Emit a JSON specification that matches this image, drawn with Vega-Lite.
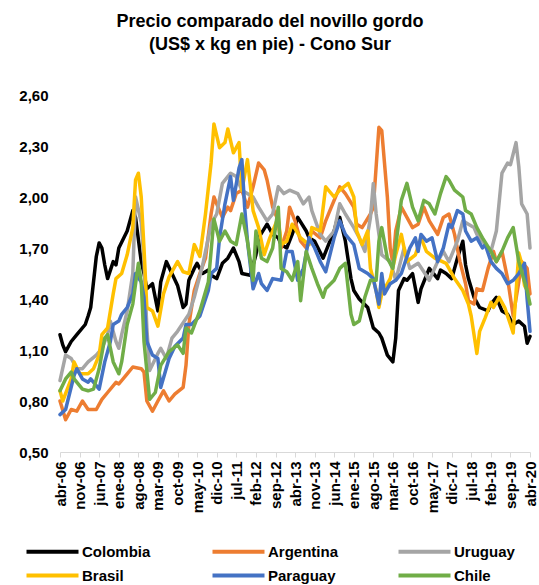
{
"$schema": "https://vega.github.io/schema/vega-lite/v6.json",
"width": 470, "height": 357, "autosize": "none",
"padding": {"left": 60, "top": 95, "right": 9, "bottom": 133},
"title": {"text": ["Precio comparado del novillo gordo", "(US$ x kg en pie) - Cono Sur"], "font": "Liberation Sans", "fontSize": 18, "fontWeight": "bold", "color": "#000000", "anchor": "middle", "dx": -25, "offset": 34, "lineHeight": 23},
"config": {"view": {"stroke": null}, "font": "Liberation Sans"},
"data": {"format": {"parse": {"d": "date:'%Y-%m'"}}, "values": [
{"s":"Colombia","d":"2006-04","v":1.19},{"s":"Colombia","d":"2006-05","v":1.13},{"s":"Colombia","d":"2006-06","v":1.09},{"s":"Colombia","d":"2006-08","v":1.15},{"s":"Colombia","d":"2006-10","v":1.19},{"s":"Colombia","d":"2007-01","v":1.25},{"s":"Colombia","d":"2007-02","v":1.30},{"s":"Colombia","d":"2007-03","v":1.35},{"s":"Colombia","d":"2007-05","v":1.65},{"s":"Colombia","d":"2007-06","v":1.73},{"s":"Colombia","d":"2007-07","v":1.70},{"s":"Colombia","d":"2007-08","v":1.60},{"s":"Colombia","d":"2007-09","v":1.52},{"s":"Colombia","d":"2007-11","v":1.62},{"s":"Colombia","d":"2007-12","v":1.60},{"s":"Colombia","d":"2008-01","v":1.70},{"s":"Colombia","d":"2008-04","v":1.80},{"s":"Colombia","d":"2008-06","v":1.92},{"s":"Colombia","d":"2008-07","v":1.88},{"s":"Colombia","d":"2008-09","v":1.62},{"s":"Colombia","d":"2008-10","v":1.55},{"s":"Colombia","d":"2008-11","v":1.46},{"s":"Colombia","d":"2009-01","v":1.49},{"s":"Colombia","d":"2009-03","v":1.33},{"s":"Colombia","d":"2009-04","v":1.50},{"s":"Colombia","d":"2009-06","v":1.62},{"s":"Colombia","d":"2009-08","v":1.55},{"s":"Colombia","d":"2009-10","v":1.48},{"s":"Colombia","d":"2009-12","v":1.35},{"s":"Colombia","d":"2010-01","v":1.37},{"s":"Colombia","d":"2010-02","v":1.51},{"s":"Colombia","d":"2010-04","v":1.58},{"s":"Colombia","d":"2010-05","v":1.61},{"s":"Colombia","d":"2010-07","v":1.55},{"s":"Colombia","d":"2010-09","v":1.57},{"s":"Colombia","d":"2010-10","v":1.54},{"s":"Colombia","d":"2010-12","v":1.52},{"s":"Colombia","d":"2011-02","v":1.61},{"s":"Colombia","d":"2011-04","v":1.64},{"s":"Colombia","d":"2011-06","v":1.70},{"s":"Colombia","d":"2011-08","v":1.62},{"s":"Colombia","d":"2011-09","v":1.55},{"s":"Colombia","d":"2011-12","v":1.54},{"s":"Colombia","d":"2012-02","v":1.66},{"s":"Colombia","d":"2012-03","v":1.76},{"s":"Colombia","d":"2012-06","v":1.84},{"s":"Colombia","d":"2012-08","v":1.78},{"s":"Colombia","d":"2012-10","v":1.76},{"s":"Colombia","d":"2012-11","v":1.72},{"s":"Colombia","d":"2013-01","v":1.70},{"s":"Colombia","d":"2013-03","v":1.78},{"s":"Colombia","d":"2013-05","v":1.88},{"s":"Colombia","d":"2013-08","v":1.80},{"s":"Colombia","d":"2013-09","v":1.76},{"s":"Colombia","d":"2013-11","v":1.74},{"s":"Colombia","d":"2014-02","v":1.64},{"s":"Colombia","d":"2014-04","v":1.72},{"s":"Colombia","d":"2014-06","v":1.80},{"s":"Colombia","d":"2014-07","v":1.86},{"s":"Colombia","d":"2014-08","v":1.88},{"s":"Colombia","d":"2014-10","v":1.74},{"s":"Colombia","d":"2014-12","v":1.52},{"s":"Colombia","d":"2015-01","v":1.45},{"s":"Colombia","d":"2015-03","v":1.40},{"s":"Colombia","d":"2015-06","v":1.35},{"s":"Colombia","d":"2015-08","v":1.23},{"s":"Colombia","d":"2015-10","v":1.20},{"s":"Colombia","d":"2015-11","v":1.17},{"s":"Colombia","d":"2016-01","v":1.07},{"s":"Colombia","d":"2016-03","v":1.03},{"s":"Colombia","d":"2016-04","v":1.17},{"s":"Colombia","d":"2016-05","v":1.45},{"s":"Colombia","d":"2016-07","v":1.52},{"s":"Colombia","d":"2016-08","v":1.51},{"s":"Colombia","d":"2016-10","v":1.55},{"s":"Colombia","d":"2016-12","v":1.38},{"s":"Colombia","d":"2017-01","v":1.46},{"s":"Colombia","d":"2017-04","v":1.58},{"s":"Colombia","d":"2017-07","v":1.52},{"s":"Colombia","d":"2017-08","v":1.57},{"s":"Colombia","d":"2017-10","v":1.55},{"s":"Colombia","d":"2017-12","v":1.52},{"s":"Colombia","d":"2018-02","v":1.64},{"s":"Colombia","d":"2018-04","v":1.74},{"s":"Colombia","d":"2018-05","v":1.60},{"s":"Colombia","d":"2018-06","v":1.52},{"s":"Colombia","d":"2018-08","v":1.41},{"s":"Colombia","d":"2018-10","v":1.35},{"s":"Colombia","d":"2019-01","v":1.33},{"s":"Colombia","d":"2019-02","v":1.37},{"s":"Colombia","d":"2019-04","v":1.41},{"s":"Colombia","d":"2019-06","v":1.33},{"s":"Colombia","d":"2019-08","v":1.31},{"s":"Colombia","d":"2019-10","v":1.25},{"s":"Colombia","d":"2019-12","v":1.27},{"s":"Colombia","d":"2020-02","v":1.24},{"s":"Colombia","d":"2020-03","v":1.14},{"s":"Colombia","d":"2020-04","v":1.18},
{"s":"Argentina","d":"2006-04","v":0.80},{"s":"Argentina","d":"2006-06","v":0.69},{"s":"Argentina","d":"2006-08","v":0.75},{"s":"Argentina","d":"2006-10","v":0.74},{"s":"Argentina","d":"2006-12","v":0.80},{"s":"Argentina","d":"2007-02","v":0.75},{"s":"Argentina","d":"2007-05","v":0.75},{"s":"Argentina","d":"2007-07","v":0.81},{"s":"Argentina","d":"2007-09","v":0.85},{"s":"Argentina","d":"2007-12","v":0.91},{"s":"Argentina","d":"2008-01","v":0.90},{"s":"Argentina","d":"2008-04","v":0.96},{"s":"Argentina","d":"2008-06","v":1.00},{"s":"Argentina","d":"2008-09","v":0.99},{"s":"Argentina","d":"2008-10","v":0.97},{"s":"Argentina","d":"2008-11","v":0.80},{"s":"Argentina","d":"2009-01","v":0.74},{"s":"Argentina","d":"2009-03","v":0.80},{"s":"Argentina","d":"2009-05","v":0.86},{"s":"Argentina","d":"2009-07","v":0.80},{"s":"Argentina","d":"2009-09","v":0.84},{"s":"Argentina","d":"2009-12","v":0.88},{"s":"Argentina","d":"2010-01","v":1.01},{"s":"Argentina","d":"2010-02","v":1.25},{"s":"Argentina","d":"2010-04","v":1.45},{"s":"Argentina","d":"2010-06","v":1.55},{"s":"Argentina","d":"2010-08","v":1.64},{"s":"Argentina","d":"2010-10","v":1.90},{"s":"Argentina","d":"2010-11","v":2.00},{"s":"Argentina","d":"2010-12","v":1.96},{"s":"Argentina","d":"2011-02","v":1.88},{"s":"Argentina","d":"2011-04","v":1.94},{"s":"Argentina","d":"2011-05","v":1.92},{"s":"Argentina","d":"2011-07","v":2.02},{"s":"Argentina","d":"2011-09","v":2.04},{"s":"Argentina","d":"2011-11","v":1.94},{"s":"Argentina","d":"2012-01","v":2.06},{"s":"Argentina","d":"2012-03","v":2.20},{"s":"Argentina","d":"2012-05","v":2.16},{"s":"Argentina","d":"2012-06","v":2.10},{"s":"Argentina","d":"2012-08","v":1.94},{"s":"Argentina","d":"2012-10","v":1.86},{"s":"Argentina","d":"2012-11","v":1.70},{"s":"Argentina","d":"2013-01","v":1.80},{"s":"Argentina","d":"2013-02","v":1.94},{"s":"Argentina","d":"2013-04","v":1.86},{"s":"Argentina","d":"2013-06","v":1.74},{"s":"Argentina","d":"2013-08","v":1.70},{"s":"Argentina","d":"2013-10","v":1.80},{"s":"Argentina","d":"2014-01","v":1.76},{"s":"Argentina","d":"2014-03","v":1.86},{"s":"Argentina","d":"2014-05","v":1.94},{"s":"Argentina","d":"2014-08","v":2.06},{"s":"Argentina","d":"2014-10","v":2.02},{"s":"Argentina","d":"2015-01","v":1.94},{"s":"Argentina","d":"2015-02","v":1.84},{"s":"Argentina","d":"2015-04","v":1.82},{"s":"Argentina","d":"2015-07","v":1.90},{"s":"Argentina","d":"2015-08","v":1.94},{"s":"Argentina","d":"2015-10","v":2.41},{"s":"Argentina","d":"2015-11","v":2.39},{"s":"Argentina","d":"2016-01","v":2.00},{"s":"Argentina","d":"2016-02","v":1.70},{"s":"Argentina","d":"2016-03","v":1.61},{"s":"Argentina","d":"2016-04","v":1.80},{"s":"Argentina","d":"2016-06","v":1.94},{"s":"Argentina","d":"2016-08","v":1.88},{"s":"Argentina","d":"2016-10","v":1.82},{"s":"Argentina","d":"2016-12","v":1.84},{"s":"Argentina","d":"2017-02","v":1.94},{"s":"Argentina","d":"2017-04","v":1.86},{"s":"Argentina","d":"2017-07","v":1.78},{"s":"Argentina","d":"2017-09","v":1.88},{"s":"Argentina","d":"2017-11","v":1.90},{"s":"Argentina","d":"2018-01","v":1.78},{"s":"Argentina","d":"2018-03","v":1.62},{"s":"Argentina","d":"2018-05","v":1.49},{"s":"Argentina","d":"2018-06","v":1.39},{"s":"Argentina","d":"2018-08","v":1.37},{"s":"Argentina","d":"2018-09","v":1.46},{"s":"Argentina","d":"2018-11","v":1.45},{"s":"Argentina","d":"2019-01","v":1.58},{"s":"Argentina","d":"2019-03","v":1.68},{"s":"Argentina","d":"2019-04","v":1.62},{"s":"Argentina","d":"2019-06","v":1.68},{"s":"Argentina","d":"2019-08","v":1.52},{"s":"Argentina","d":"2019-10","v":1.30},{"s":"Argentina","d":"2019-12","v":1.50},{"s":"Argentina","d":"2020-01","v":1.62},{"s":"Argentina","d":"2020-03","v":1.58},{"s":"Argentina","d":"2020-04","v":1.43},
{"s":"Uruguay","d":"2006-04","v":0.92},{"s":"Uruguay","d":"2006-06","v":1.07},{"s":"Uruguay","d":"2006-08","v":1.05},{"s":"Uruguay","d":"2006-10","v":0.99},{"s":"Uruguay","d":"2006-12","v":0.99},{"s":"Uruguay","d":"2007-02","v":1.03},{"s":"Uruguay","d":"2007-05","v":1.07},{"s":"Uruguay","d":"2007-07","v":1.11},{"s":"Uruguay","d":"2007-09","v":1.19},{"s":"Uruguay","d":"2007-10","v":1.27},{"s":"Uruguay","d":"2007-12","v":1.15},{"s":"Uruguay","d":"2008-01","v":1.11},{"s":"Uruguay","d":"2008-02","v":1.19},{"s":"Uruguay","d":"2008-04","v":1.33},{"s":"Uruguay","d":"2008-06","v":1.55},{"s":"Uruguay","d":"2008-07","v":2.00},{"s":"Uruguay","d":"2008-09","v":1.85},{"s":"Uruguay","d":"2008-10","v":1.62},{"s":"Uruguay","d":"2008-11","v":1.23},{"s":"Uruguay","d":"2008-12","v":0.98},{"s":"Uruguay","d":"2009-03","v":1.08},{"s":"Uruguay","d":"2009-04","v":1.11},{"s":"Uruguay","d":"2009-06","v":1.05},{"s":"Uruguay","d":"2009-08","v":1.17},{"s":"Uruguay","d":"2009-10","v":1.21},{"s":"Uruguay","d":"2010-02","v":1.31},{"s":"Uruguay","d":"2010-04","v":1.41},{"s":"Uruguay","d":"2010-07","v":1.60},{"s":"Uruguay","d":"2010-09","v":1.76},{"s":"Uruguay","d":"2010-10","v":1.84},{"s":"Uruguay","d":"2010-12","v":1.90},{"s":"Uruguay","d":"2011-02","v":2.08},{"s":"Uruguay","d":"2011-05","v":2.14},{"s":"Uruguay","d":"2011-07","v":2.12},{"s":"Uruguay","d":"2011-09","v":2.04},{"s":"Uruguay","d":"2012-01","v":2.00},{"s":"Uruguay","d":"2012-03","v":1.94},{"s":"Uruguay","d":"2012-06","v":1.86},{"s":"Uruguay","d":"2012-08","v":1.90},{"s":"Uruguay","d":"2012-10","v":2.06},{"s":"Uruguay","d":"2012-12","v":2.02},{"s":"Uruguay","d":"2013-02","v":2.04},{"s":"Uruguay","d":"2013-05","v":2.02},{"s":"Uruguay","d":"2013-07","v":1.96},{"s":"Uruguay","d":"2013-09","v":2.00},{"s":"Uruguay","d":"2013-10","v":1.92},{"s":"Uruguay","d":"2014-01","v":1.78},{"s":"Uruguay","d":"2014-03","v":1.74},{"s":"Uruguay","d":"2014-06","v":1.80},{"s":"Uruguay","d":"2014-08","v":1.96},{"s":"Uruguay","d":"2014-10","v":1.90},{"s":"Uruguay","d":"2015-01","v":1.82},{"s":"Uruguay","d":"2015-03","v":1.76},{"s":"Uruguay","d":"2015-05","v":1.68},{"s":"Uruguay","d":"2015-07","v":1.88},{"s":"Uruguay","d":"2015-08","v":2.08},{"s":"Uruguay","d":"2015-09","v":1.90},{"s":"Uruguay","d":"2015-11","v":1.66},{"s":"Uruguay","d":"2016-02","v":1.62},{"s":"Uruguay","d":"2016-04","v":1.51},{"s":"Uruguay","d":"2016-07","v":1.70},{"s":"Uruguay","d":"2016-09","v":1.58},{"s":"Uruguay","d":"2016-12","v":1.61},{"s":"Uruguay","d":"2017-02","v":1.56},{"s":"Uruguay","d":"2017-04","v":1.51},{"s":"Uruguay","d":"2017-07","v":1.62},{"s":"Uruguay","d":"2017-09","v":1.68},{"s":"Uruguay","d":"2017-11","v":1.62},{"s":"Uruguay","d":"2018-02","v":1.74},{"s":"Uruguay","d":"2018-04","v":1.86},{"s":"Uruguay","d":"2018-06","v":1.84},{"s":"Uruguay","d":"2018-08","v":1.82},{"s":"Uruguay","d":"2018-09","v":1.78},{"s":"Uruguay","d":"2018-11","v":1.74},{"s":"Uruguay","d":"2019-02","v":1.68},{"s":"Uruguay","d":"2019-04","v":1.80},{"s":"Uruguay","d":"2019-06","v":2.14},{"s":"Uruguay","d":"2019-08","v":2.20},{"s":"Uruguay","d":"2019-09","v":2.19},{"s":"Uruguay","d":"2019-11","v":2.32},{"s":"Uruguay","d":"2019-12","v":2.18},{"s":"Uruguay","d":"2020-01","v":1.96},{"s":"Uruguay","d":"2020-03","v":1.90},{"s":"Uruguay","d":"2020-04","v":1.70},
{"s":"Brasil","d":"2006-04","v":0.86},{"s":"Brasil","d":"2006-05","v":0.80},{"s":"Brasil","d":"2006-08","v":0.93},{"s":"Brasil","d":"2006-09","v":1.03},{"s":"Brasil","d":"2006-11","v":0.96},{"s":"Brasil","d":"2007-02","v":0.96},{"s":"Brasil","d":"2007-04","v":0.99},{"s":"Brasil","d":"2007-06","v":1.07},{"s":"Brasil","d":"2007-07","v":1.19},{"s":"Brasil","d":"2007-09","v":1.23},{"s":"Brasil","d":"2007-11","v":1.43},{"s":"Brasil","d":"2007-12","v":1.52},{"s":"Brasil","d":"2008-02","v":1.55},{"s":"Brasil","d":"2008-04","v":1.66},{"s":"Brasil","d":"2008-06","v":1.82},{"s":"Brasil","d":"2008-07","v":2.10},{"s":"Brasil","d":"2008-08","v":2.14},{"s":"Brasil","d":"2008-09","v":2.00},{"s":"Brasil","d":"2008-10","v":1.70},{"s":"Brasil","d":"2008-11","v":1.35},{"s":"Brasil","d":"2009-01","v":1.33},{"s":"Brasil","d":"2009-03","v":1.24},{"s":"Brasil","d":"2009-05","v":1.43},{"s":"Brasil","d":"2009-07","v":1.53},{"s":"Brasil","d":"2009-10","v":1.62},{"s":"Brasil","d":"2009-12","v":1.56},{"s":"Brasil","d":"2010-02","v":1.55},{"s":"Brasil","d":"2010-04","v":1.72},{"s":"Brasil","d":"2010-06","v":1.65},{"s":"Brasil","d":"2010-08","v":1.90},{"s":"Brasil","d":"2010-10","v":2.20},{"s":"Brasil","d":"2010-11","v":2.43},{"s":"Brasil","d":"2011-01","v":2.29},{"s":"Brasil","d":"2011-03","v":2.32},{"s":"Brasil","d":"2011-04","v":2.40},{"s":"Brasil","d":"2011-06","v":2.26},{"s":"Brasil","d":"2011-08","v":2.32},{"s":"Brasil","d":"2011-09","v":2.04},{"s":"Brasil","d":"2011-11","v":2.22},{"s":"Brasil","d":"2012-01","v":1.92},{"s":"Brasil","d":"2012-03","v":1.82},{"s":"Brasil","d":"2012-05","v":1.66},{"s":"Brasil","d":"2012-07","v":1.76},{"s":"Brasil","d":"2012-10","v":1.88},{"s":"Brasil","d":"2012-11","v":1.72},{"s":"Brasil","d":"2013-01","v":1.74},{"s":"Brasil","d":"2013-03","v":1.84},{"s":"Brasil","d":"2013-06","v":1.76},{"s":"Brasil","d":"2013-09","v":1.72},{"s":"Brasil","d":"2013-10","v":1.82},{"s":"Brasil","d":"2014-01","v":1.80},{"s":"Brasil","d":"2014-03","v":2.06},{"s":"Brasil","d":"2014-06","v":2.00},{"s":"Brasil","d":"2014-08","v":2.04},{"s":"Brasil","d":"2014-11","v":2.08},{"s":"Brasil","d":"2015-01","v":2.00},{"s":"Brasil","d":"2015-02","v":1.80},{"s":"Brasil","d":"2015-04","v":1.72},{"s":"Brasil","d":"2015-06","v":1.80},{"s":"Brasil","d":"2015-07","v":1.58},{"s":"Brasil","d":"2015-09","v":1.45},{"s":"Brasil","d":"2015-10","v":1.35},{"s":"Brasil","d":"2015-11","v":1.43},{"s":"Brasil","d":"2016-02","v":1.52},{"s":"Brasil","d":"2016-04","v":1.66},{"s":"Brasil","d":"2016-06","v":1.78},{"s":"Brasil","d":"2016-08","v":1.62},{"s":"Brasil","d":"2016-11","v":1.66},{"s":"Brasil","d":"2017-01","v":1.76},{"s":"Brasil","d":"2017-03","v":1.68},{"s":"Brasil","d":"2017-06","v":1.64},{"s":"Brasil","d":"2017-10","v":1.61},{"s":"Brasil","d":"2017-11","v":1.58},{"s":"Brasil","d":"2018-01","v":1.52},{"s":"Brasil","d":"2018-04","v":1.45},{"s":"Brasil","d":"2018-06","v":1.37},{"s":"Brasil","d":"2018-07","v":1.30},{"s":"Brasil","d":"2018-09","v":1.08},{"s":"Brasil","d":"2018-10","v":1.21},{"s":"Brasil","d":"2018-12","v":1.29},{"s":"Brasil","d":"2019-02","v":1.38},{"s":"Brasil","d":"2019-03","v":1.35},{"s":"Brasil","d":"2019-05","v":1.41},{"s":"Brasil","d":"2019-07","v":1.35},{"s":"Brasil","d":"2019-09","v":1.25},{"s":"Brasil","d":"2019-10","v":1.20},{"s":"Brasil","d":"2019-12","v":1.67},{"s":"Brasil","d":"2020-01","v":1.61},{"s":"Brasil","d":"2020-02","v":1.48},{"s":"Brasil","d":"2020-03","v":1.45},
{"s":"Paraguay","d":"2006-04","v":0.72},{"s":"Paraguay","d":"2006-06","v":0.75},{"s":"Paraguay","d":"2006-09","v":0.95},{"s":"Paraguay","d":"2006-10","v":0.99},{"s":"Paraguay","d":"2006-12","v":0.93},{"s":"Paraguay","d":"2007-02","v":0.91},{"s":"Paraguay","d":"2007-03","v":0.93},{"s":"Paraguay","d":"2007-06","v":0.87},{"s":"Paraguay","d":"2007-08","v":1.03},{"s":"Paraguay","d":"2007-10","v":1.15},{"s":"Paraguay","d":"2007-11","v":1.25},{"s":"Paraguay","d":"2008-01","v":1.27},{"s":"Paraguay","d":"2008-02","v":1.31},{"s":"Paraguay","d":"2008-04","v":1.35},{"s":"Paraguay","d":"2008-06","v":1.43},{"s":"Paraguay","d":"2008-07","v":1.55},{"s":"Paraguay","d":"2008-09","v":1.50},{"s":"Paraguay","d":"2008-10","v":1.41},{"s":"Paraguay","d":"2008-11","v":1.15},{"s":"Paraguay","d":"2009-01","v":1.07},{"s":"Paraguay","d":"2009-03","v":1.05},{"s":"Paraguay","d":"2009-04","v":0.88},{"s":"Paraguay","d":"2009-07","v":1.05},{"s":"Paraguay","d":"2009-09","v":1.12},{"s":"Paraguay","d":"2009-12","v":1.17},{"s":"Paraguay","d":"2010-01","v":1.25},{"s":"Paraguay","d":"2010-03","v":1.25},{"s":"Paraguay","d":"2010-06","v":1.30},{"s":"Paraguay","d":"2010-09","v":1.45},{"s":"Paraguay","d":"2010-10","v":1.55},{"s":"Paraguay","d":"2010-12","v":1.58},{"s":"Paraguay","d":"2011-01","v":1.76},{"s":"Paraguay","d":"2011-03","v":1.96},{"s":"Paraguay","d":"2011-05","v":2.12},{"s":"Paraguay","d":"2011-06","v":1.98},{"s":"Paraguay","d":"2011-08","v":2.17},{"s":"Paraguay","d":"2011-09","v":2.22},{"s":"Paraguay","d":"2011-10","v":1.94},{"s":"Paraguay","d":"2011-11","v":1.74},{"s":"Paraguay","d":"2012-01","v":1.46},{"s":"Paraguay","d":"2012-03","v":1.55},{"s":"Paraguay","d":"2012-04","v":1.49},{"s":"Paraguay","d":"2012-06","v":1.45},{"s":"Paraguay","d":"2012-08","v":1.52},{"s":"Paraguay","d":"2012-11","v":1.51},{"s":"Paraguay","d":"2013-01","v":1.68},{"s":"Paraguay","d":"2013-03","v":1.68},{"s":"Paraguay","d":"2013-05","v":1.51},{"s":"Paraguay","d":"2013-07","v":1.58},{"s":"Paraguay","d":"2013-09","v":1.76},{"s":"Paraguay","d":"2013-11","v":1.70},{"s":"Paraguay","d":"2014-01","v":1.62},{"s":"Paraguay","d":"2014-03","v":1.56},{"s":"Paraguay","d":"2014-06","v":1.76},{"s":"Paraguay","d":"2014-08","v":1.86},{"s":"Paraguay","d":"2014-10","v":1.78},{"s":"Paraguay","d":"2015-01","v":1.72},{"s":"Paraguay","d":"2015-03","v":1.58},{"s":"Paraguay","d":"2015-06","v":1.55},{"s":"Paraguay","d":"2015-08","v":1.52},{"s":"Paraguay","d":"2015-10","v":1.37},{"s":"Paraguay","d":"2015-11","v":1.55},{"s":"Paraguay","d":"2015-12","v":1.43},{"s":"Paraguay","d":"2016-02","v":1.49},{"s":"Paraguay","d":"2016-04","v":1.51},{"s":"Paraguay","d":"2016-06","v":1.55},{"s":"Paraguay","d":"2016-09","v":1.70},{"s":"Paraguay","d":"2016-11","v":1.76},{"s":"Paraguay","d":"2016-12","v":1.68},{"s":"Paraguay","d":"2017-01","v":1.78},{"s":"Paraguay","d":"2017-03","v":1.74},{"s":"Paraguay","d":"2017-05","v":1.76},{"s":"Paraguay","d":"2017-07","v":1.62},{"s":"Paraguay","d":"2017-09","v":1.70},{"s":"Paraguay","d":"2017-11","v":1.84},{"s":"Paraguay","d":"2017-12","v":1.82},{"s":"Paraguay","d":"2018-02","v":1.92},{"s":"Paraguay","d":"2018-04","v":1.90},{"s":"Paraguay","d":"2018-05","v":1.80},{"s":"Paraguay","d":"2018-07","v":1.74},{"s":"Paraguay","d":"2018-09","v":1.76},{"s":"Paraguay","d":"2018-11","v":1.70},{"s":"Paraguay","d":"2018-12","v":1.72},{"s":"Paraguay","d":"2019-02","v":1.62},{"s":"Paraguay","d":"2019-04","v":1.58},{"s":"Paraguay","d":"2019-06","v":1.55},{"s":"Paraguay","d":"2019-08","v":1.49},{"s":"Paraguay","d":"2019-10","v":1.51},{"s":"Paraguay","d":"2019-12","v":1.55},{"s":"Paraguay","d":"2020-01","v":1.58},{"s":"Paraguay","d":"2020-02","v":1.61},{"s":"Paraguay","d":"2020-03","v":1.40},{"s":"Paraguay","d":"2020-04","v":1.21},
{"s":"Chile","d":"2006-04","v":0.86},{"s":"Chile","d":"2006-06","v":0.93},{"s":"Chile","d":"2006-08","v":0.97},{"s":"Chile","d":"2006-09","v":0.93},{"s":"Chile","d":"2006-12","v":0.87},{"s":"Chile","d":"2007-02","v":0.86},{"s":"Chile","d":"2007-04","v":0.87},{"s":"Chile","d":"2007-06","v":0.99},{"s":"Chile","d":"2007-08","v":1.17},{"s":"Chile","d":"2007-09","v":1.19},{"s":"Chile","d":"2007-11","v":1.03},{"s":"Chile","d":"2008-01","v":0.96},{"s":"Chile","d":"2008-02","v":1.03},{"s":"Chile","d":"2008-04","v":1.25},{"s":"Chile","d":"2008-06","v":1.37},{"s":"Chile","d":"2008-08","v":1.61},{"s":"Chile","d":"2008-09","v":1.50},{"s":"Chile","d":"2008-10","v":1.15},{"s":"Chile","d":"2008-12","v":0.81},{"s":"Chile","d":"2009-02","v":0.85},{"s":"Chile","d":"2009-04","v":1.01},{"s":"Chile","d":"2009-07","v":1.09},{"s":"Chile","d":"2009-10","v":1.13},{"s":"Chile","d":"2009-12","v":1.08},{"s":"Chile","d":"2010-01","v":1.23},{"s":"Chile","d":"2010-03","v":1.20},{"s":"Chile","d":"2010-06","v":1.33},{"s":"Chile","d":"2010-09","v":1.50},{"s":"Chile","d":"2010-10","v":1.68},{"s":"Chile","d":"2010-11","v":1.87},{"s":"Chile","d":"2011-01","v":1.74},{"s":"Chile","d":"2011-03","v":1.80},{"s":"Chile","d":"2011-05","v":1.74},{"s":"Chile","d":"2011-07","v":1.72},{"s":"Chile","d":"2011-09","v":1.90},{"s":"Chile","d":"2011-11","v":1.74},{"s":"Chile","d":"2012-01","v":1.51},{"s":"Chile","d":"2012-02","v":1.80},{"s":"Chile","d":"2012-04","v":1.64},{"s":"Chile","d":"2012-06","v":1.62},{"s":"Chile","d":"2012-08","v":1.70},{"s":"Chile","d":"2012-10","v":1.94},{"s":"Chile","d":"2012-11","v":1.58},{"s":"Chile","d":"2013-01","v":1.56},{"s":"Chile","d":"2013-03","v":1.51},{"s":"Chile","d":"2013-05","v":1.62},{"s":"Chile","d":"2013-06","v":1.39},{"s":"Chile","d":"2013-08","v":1.68},{"s":"Chile","d":"2013-10","v":1.58},{"s":"Chile","d":"2013-12","v":1.49},{"s":"Chile","d":"2014-02","v":1.41},{"s":"Chile","d":"2014-03","v":1.46},{"s":"Chile","d":"2014-06","v":1.51},{"s":"Chile","d":"2014-08","v":1.58},{"s":"Chile","d":"2014-10","v":1.61},{"s":"Chile","d":"2014-12","v":1.31},{"s":"Chile","d":"2015-01","v":1.25},{"s":"Chile","d":"2015-03","v":1.27},{"s":"Chile","d":"2015-05","v":1.41},{"s":"Chile","d":"2015-07","v":1.51},{"s":"Chile","d":"2015-09","v":1.51},{"s":"Chile","d":"2015-10","v":1.74},{"s":"Chile","d":"2015-11","v":1.82},{"s":"Chile","d":"2016-01","v":1.64},{"s":"Chile","d":"2016-03","v":1.58},{"s":"Chile","d":"2016-05","v":1.84},{"s":"Chile","d":"2016-06","v":1.98},{"s":"Chile","d":"2016-08","v":2.08},{"s":"Chile","d":"2016-10","v":1.94},{"s":"Chile","d":"2016-12","v":1.86},{"s":"Chile","d":"2017-02","v":1.98},{"s":"Chile","d":"2017-04","v":1.96},{"s":"Chile","d":"2017-06","v":1.90},{"s":"Chile","d":"2017-08","v":2.02},{"s":"Chile","d":"2017-10","v":2.12},{"s":"Chile","d":"2017-11","v":2.10},{"s":"Chile","d":"2018-01","v":2.04},{"s":"Chile","d":"2018-04","v":2.00},{"s":"Chile","d":"2018-05","v":1.92},{"s":"Chile","d":"2018-07","v":1.90},{"s":"Chile","d":"2018-09","v":1.82},{"s":"Chile","d":"2018-11","v":1.76},{"s":"Chile","d":"2019-02","v":1.68},{"s":"Chile","d":"2019-04","v":1.62},{"s":"Chile","d":"2019-06","v":1.68},{"s":"Chile","d":"2019-08","v":1.76},{"s":"Chile","d":"2019-10","v":1.82},{"s":"Chile","d":"2019-12","v":1.62},{"s":"Chile","d":"2020-01","v":1.56},{"s":"Chile","d":"2020-03","v":1.45},{"s":"Chile","d":"2020-04","v":1.37}
]},
"mark": {"type": "line", "strokeWidth": 3.5, "strokeJoin": "round", "strokeCap": "round"},
"encoding": {
"x": {"field": "d", "type": "temporal",
 "scale": {"domain": [{"year": 2006, "month": 4, "date": 1}, {"year": 2020, "month": 4, "date": 1}]},
 "axis": {"title": null, "grid": false,
  "values": [{"year":2006,"month":4,"date":1},{"year":2006,"month":11,"date":1},{"year":2007,"month":6,"date":1},{"year":2008,"month":1,"date":1},{"year":2008,"month":8,"date":1},{"year":2009,"month":3,"date":1},{"year":2009,"month":10,"date":1},{"year":2010,"month":5,"date":1},{"year":2010,"month":12,"date":1},{"year":2011,"month":7,"date":1},{"year":2012,"month":2,"date":1},{"year":2012,"month":9,"date":1},{"year":2013,"month":4,"date":1},{"year":2013,"month":11,"date":1},{"year":2014,"month":6,"date":1},{"year":2015,"month":1,"date":1},{"year":2015,"month":8,"date":1},{"year":2016,"month":3,"date":1},{"year":2016,"month":10,"date":1},{"year":2017,"month":5,"date":1},{"year":2017,"month":12,"date":1},{"year":2018,"month":7,"date":1},{"year":2019,"month":2,"date":1},{"year":2019,"month":9,"date":1},{"year":2020,"month":4,"date":1}],
  "labelExpr": "['ene','feb','mar','abr','may','jun','jul','ago','sep','oct','nov','dic'][month(datum.value)] + '-' + timeFormat(datum.value, '%y')",
  "labelAngle": -90, "labelFont": "Liberation Sans", "labelFontSize": 15, "labelFontWeight": "bold", "labelColor": "#000000", "labelPadding": 4, "labelOverlap": false, "labelFlush": false,
  "domainColor": "#D9D9D9", "domainWidth": 1, "tickColor": "#D9D9D9", "tickSize": 5}},
"y": {"field": "v", "type": "quantitative",
 "scale": {"domain": [0.5, 2.6], "nice": false, "zero": false},
 "axis": {"title": null, "grid": false, "domain": false, "ticks": false,
  "values": [0.5, 0.8, 1.1, 1.4, 1.7, 2.0, 2.3, 2.6],
  "labelExpr": "replace(format(datum.value, '.2f'), '.', ',')",
  "labelFont": "Liberation Sans", "labelFontSize": 15, "labelFontWeight": "bold", "labelColor": "#000000", "labelPadding": 12}},
"color": {"field": "s", "type": "nominal",
 "scale": {"domain": ["Colombia", "Argentina", "Uruguay", "Brasil", "Paraguay", "Chile"], "range": ["#000000", "#ED7D31", "#A5A5A5", "#FFC000", "#4472C4", "#70AD47"]},
 "legend": {"title": null, "orient": "none", "legendX": -16, "legendY": 448, "direction": "horizontal", "columns": 3, "gridAlign": "all",
  "symbolType": "M-4,0H4", "symbolSize": 169, "symbolStrokeWidth": 4, "columnPadding": 51, "rowPadding": 7, "labelOffset": 21,
  "labelFont": "Liberation Sans", "labelFontSize": 15, "labelFontWeight": "bold", "labelColor": "#000000"}}
}
}
